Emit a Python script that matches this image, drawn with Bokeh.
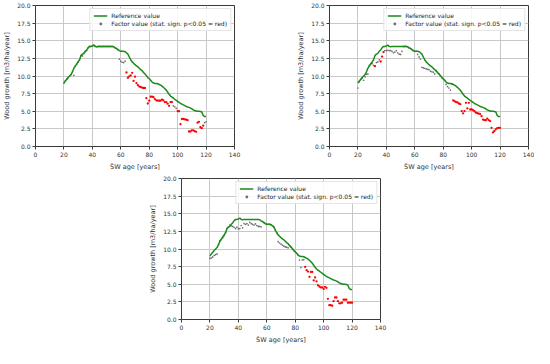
from bokeh.plotting import figure
from bokeh.layouts import column, row
from bokeh.models import Spacer, Legend, LegendItem, NumeralTickFormatter, FixedTicker, Range1d
from bokeh.embed import file_html
from bokeh.resources import INLINE

N = None  # factor value lying on the reference line

ages = list(range(20, 121))

reference = [
    9.0, 9.3, 9.55, 9.8, 10.0, 10.2, 10.6, 11.1, 11.4, 11.7,
    12.0, 12.3, 12.9, 13.1, 13.2, 13.5, 13.7, 14.0, 14.2, 14.2,
    14.25, 14.4, 14.2, 14.15, 14.2, 14.2, 14.2, 14.2, 14.2, 14.2,
    14.2, 14.2, 14.2, 14.2, 14.2, 14.15, 14.0, 13.9, 13.75, 13.6,
    13.5, 13.5, 13.5, 13.45, 13.3, 13.1, 12.7, 12.3, 12.0, 11.8,
    11.6, 11.45, 11.3, 11.1, 10.9, 10.75, 10.5, 10.3, 10.05, 9.8,
    9.6, 9.4, 9.15, 9.0, 8.95, 8.95, 8.9, 8.8, 8.7, 8.55,
    8.4, 8.2, 8.0, 7.7, 7.4, 7.15, 7.0, 6.85, 6.7, 6.55,
    6.4, 6.25, 6.1, 6.0, 5.9, 5.8, 5.7, 5.6, 5.55, 5.45,
    5.35, 5.2, 5.1, 5.05, 5.0, 5.0, 4.95, 4.9, 4.4, 4.25,
    4.25,
]

factor_1 = [
    N, N, N, N, N, N, N, 10.1, N, N,
    N, N, N, 12.85, N, N, 13.6, N, N, N,
    N, N, N, N, N, N, N, N, N, N,
    N, N, N, N, N, N, N, N, N, 12.4,
    12.1, 11.95, 11.9, 12.1, 10.5, 9.75, 9.95, 10.1, 10.45, 9.3,
    9.9, 9.0, 8.7, 8.5, 8.45, 8.35, 8.3, 8.3, 6.85, 6.1,
    6.5, 7.07, 7.07, 7.0, 6.72, 6.55, 6.5, 6.5, 6.5, 6.64,
    6.55, 6.3, 6.3, 6.07, 5.77, 6.3, 6.3, 5.77, 5.64, 5.42,
    5.03, 5.0, 3.17, 3.9, 3.9, 3.85, 3.8, 3.73, 2.13, 2.13,
    2.3, 2.3, 2.17, 2.08, 3.38, 3.5, 2.73, 2.6, 2.95, 3.38,
    3.5,
]
red_ages_1 = list(range(64, 97)) + list(range(100, 119))

factor_2 = [
    8.3, 9.2, 9.5, 9.7, 9.4, 9.9, 10.25, 10.3, 11.5, 11.76,
    11.76, 11.5, 11.4, 11.9, 12.0, 12.3, 12.06, 12.75, 13.4, 13.6,
    13.6, 13.65, 13.6, 13.6, 13.5, 13.3, 13.4, 13.6, 13.3, 13.1,
    13.06, 13.5, N, N, N, N, N, N, N, N,
    N, N, 13.06, 12.7, 12.4, 11.24, 11.15, 11.1, 11.0, 10.95,
    10.9, 10.7, 10.6, 10.54, 10.3, N, N, N, N, N,
    N, N, 8.8, 8.5, 8.3, 8.0, N, 6.55, 6.42, 6.3,
    6.25, 6.1, 6.0, 5.03, 4.7, 5.03, 6.2, 5.4, 6.2, 5.25,
    5.25, 5.16, 5.0, 4.8, 4.73, 4.65, 4.6, 4.3, 3.82, 3.73,
    3.73, 3.95, 3.75, 3.6, 2.65, 2.0, 2.2, 2.43, 2.6, 2.65,
    2.65,
]
red_ages_2 = [32, 36, 37, 38] + list(range(87, 121))

factor_3 = [
    8.66, 8.74, 8.87, 9.1, 9.2, 9.3, N, 11.17, 11.34, 11.6,
    11.9, N, N, N, 13.4, 13.3, 13.2, 13.07, 12.9, 13.1,
    12.86, 12.9, 13.33, 13.0, 13.6, 13.5, 13.6, 13.4, 13.77, 13.6,
    13.5, 13.4, 13.55, 13.33, 13.2, 13.2, 13.15, N, N, N,
    N, N, N, N, N, N, N, N, 11.04, 10.85,
    10.7, 10.56, 10.4, 10.3, 10.26, 10.17, N, N, N, N,
    N, N, N, 8.44, 7.36, 8.44, 8.5, 7.45, 7.0, 6.8,
    6.06, 6.75, 6.75, 5.54, 5.97, 5.41, 4.85, 4.68, 4.55, 4.55,
    4.33, 4.63, 4.5, 2.94, 2.03, 2.03, 1.95, 2.6, 3.12, 3.12,
    2.6, 2.3, 2.3, 2.38, 2.81, 2.81, 2.81, 2.38, 2.38, 2.38,
    2.38,
]
red_ages_3 = list(range(87, 121))

x_ticks = [0, 20, 40, 60, 80, 100, 120, 140]
y_ticks = [0.0, 2.5, 5.0, 7.5, 10.0, 12.5, 15.0, 17.5, 20.0]

FONT = "DejaVu Sans"
GREEN = "#1a8a1a"


def make_panel(factor, red_ages, width, border_left, border_right):
    vals = [reference[i] if v is None else v for i, v in enumerate(factor)]
    gx, gy, rx, ry = [], [], [], []
    for a, v in zip(ages, vals):
        if a in red_ages:
            rx.append(a); ry.append(v)
        else:
            gx.append(a); gy.append(v)

    p = figure(width=width, height=173, output_backend="svg", toolbar_location=None,
               x_range=Range1d(0, 140), y_range=Range1d(0, 20),
               min_border_left=border_left, min_border_right=border_right,
               min_border_top=5, min_border_bottom=20)
    p.background_fill_color = "white"
    p.border_fill_color = "white"
    p.outline_line_color = "#3a3a3a"
    p.outline_line_width = 1

    g_gray = p.scatter(gx, gy, marker="circle", size=1.7, fill_color="#707070",
                       line_color=None)
    p.scatter(rx, ry, marker="circle", size=2.3, fill_color="#ff0000", line_color=None)
    g_line = p.line(ages, reference, line_color=GREEN, line_width=1.5)

    p.xaxis.ticker = FixedTicker(ticks=x_ticks)
    p.yaxis.ticker = FixedTicker(ticks=y_ticks)
    p.yaxis.formatter = NumeralTickFormatter(format="0.0")
    for ax in (p.xaxis[0], p.yaxis[0]):
        ax.axis_line_color = None
        ax.major_tick_line_color = "#3a3a3a"
        ax.major_tick_out = 3
        ax.major_tick_in = 0
        ax.minor_tick_line_color = None
        ax.major_label_text_font = FONT
        ax.major_label_text_font_size = "6px"
        ax.major_label_text_color = "#333333"
        ax.major_label_standoff = 2
        ax.axis_label_text_font = FONT
        ax.axis_label_text_font_size = "6.5px"
        ax.axis_label_text_font_style = "normal"
        ax.axis_label_text_color = "#333333"
        ax.axis_label_standoff = 3
    p.xaxis.axis_label = "ŠW age [years]"
    p.yaxis.axis_label = "Wood growth [m3/ha/year]"

    p.grid.grid_line_color = "#c8c8c8"
    p.grid.grid_line_width = 1

    legend = Legend(items=[
        LegendItem(label="Reference value", renderers=[g_line]),
        LegendItem(label="Factor value (stat. sign. p<0.05 = red)", renderers=[g_gray]),
    ], location="top_right")
    legend.label_text_font = FONT
    legend.label_text_font_size = "6px"
    legend.label_text_color = "#222222"
    legend.label_height = 7
    legend.glyph_height = 7
    legend.glyph_width = 14
    legend.spacing = 1
    legend.padding = 3
    legend.margin = 3
    legend.label_standoff = 4
    legend.border_line_color = "#cccccc"
    legend.background_fill_alpha = 0.85
    p.add_layout(legend)
    return p


p1 = make_panel(factor_1, red_ages_1, 294, 30, 60)
p2 = make_panel(factor_2, red_ages_2, 240, 30, 6)
p3 = make_panel(factor_3, red_ages_3, 244, 30, 10)

layout = column(row(p1, p2), row(Spacer(width=146, height=173), p3))

open("out.html", "w").write(file_html(layout, INLINE))
